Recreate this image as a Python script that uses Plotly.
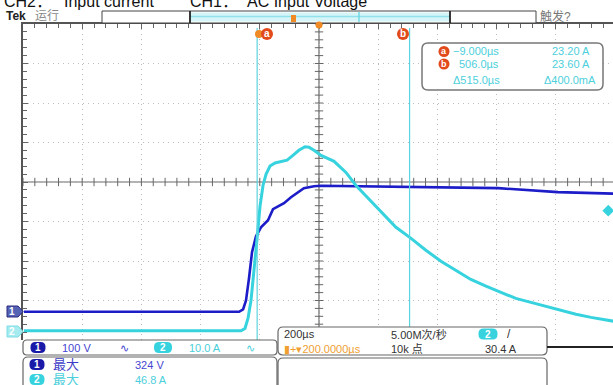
import plotly.graph_objects as go

W, H = 613, 385

# ---- data (time in µs) ----
ch1_t = [-797, -600, -400, -200, -70, -56.5, -46.6, -36.5, -26.3, -12.8, 4, 27.8, 44.6, 81.8,
         105.4, 149, 183, 207, 342, 545, 805, 1007, 1197]
ch1_v = [0, 0, 0, 0, 0, 6, 29, 85, 151, 191, 214, 232, 260, 275,
         290, 313, 318, 319, 318, 316.5, 313, 303, 299]

ch2_t = [-797, -400, -63.5, -50, -39.8, -29.7, -19.6, -9.4, 0.7, 10.8, 21, 34.5, 51.4, 71.6, 92,
         112, 132, 152.7, 166, 183, 207, 251, 291, 325, 366, 409, 460, 511, 561, 612, 663,
         713, 764, 815, 865, 916, 967, 1017, 1068, 1119, 1197]
ch2_i = [0, 0, 0, 0.6, 3.2, 7.7, 14.8, 23.2, 31.5, 36.8, 39.6, 41.7, 42.5, 42.8, 43.2,
         44.4, 45.7, 46.6, 46.5, 45.7, 44.4, 42.9, 40.1, 36.8, 33.5, 30.3, 26.2, 23.4, 20.4, 17.6, 15.3,
         13.0, 11.3, 9.7, 8.2, 7.2, 6.2, 5.2, 4.2, 3.4, 2.4]

cursor_t = [-9.0, 506.0]
trig_level = 30.4
trig_pos = 200.0

# scope settings
t_div, v_div, i_div = 200.0, 100.0, 10.0
ch1_off, ch2_off = -3.286, -3.767   # baseline position in divisions
x_range = [trig_pos - 5 * t_div, trig_pos - 5 * t_div + 590 / 59.2 * t_div]
v_range = [(-4 - ch1_off) * v_div, (4 - ch1_off) * v_div]
i_range = [(-4 - ch2_off) * i_div, (4 - ch2_off) * i_div]
v_center = -ch1_off * v_div

BLUE = '#1c1cc8'
CYAN = '#36d3df'
ORANGE = '#f08a24'
RED = '#e24a1c'
FONT = 'Liberation Sans, Arial, Noto Sans CJK SC'

def P(x):
    return x / W

def Q(y):
    return 1 - y / H

fig = go.Figure()

# centre-cross tick marks
xt = [x_range[0] + k * t_div / 5 for k in range(0, 51)]
fig.add_trace(go.Scatter(x=xt, y=[v_center] * len(xt), mode='markers',
                         marker=dict(symbol='line-ns', size=6, line=dict(color='#666', width=1)),
                         hoverinfo='skip', showlegend=False))
yt = [v_range[0] + k * v_div / 5 for k in range(0, 41)]
fig.add_trace(go.Scatter(x=[trig_pos] * len(yt), y=yt, mode='markers',
                         marker=dict(symbol='line-ew', size=6, line=dict(color='#666', width=1)),
                         hoverinfo='skip', showlegend=False))

fig.add_trace(go.Scatter(x=ch2_t, y=ch2_i, yaxis='y2', mode='lines',
                         line=dict(color=CYAN, width=3), showlegend=False))
fig.add_trace(go.Scatter(x=ch1_t, y=ch1_v, mode='lines',
                         line=dict(color=BLUE, width=2.6), showlegend=False))
# trigger level marker
fig.add_trace(go.Scatter(x=[x_range[1] - 0.08 * t_div], y=[trig_level], yaxis='y2', mode='markers',
                         marker=dict(symbol='diamond', size=9, color=CYAN), showlegend=False))

shapes = []
ann = []

def line(x0, y0, x1, y1, color, width=1, layer='above'):
    shapes.append(dict(type='line', xref='paper', yref='paper', x0=P(x0), y0=Q(y0), x1=P(x1), y1=Q(y1),
                       line=dict(color=color, width=width), layer=layer))

def rect(x0, y0, x1, y1, fill, lc=None, lw=1):
    shapes.append(dict(type='rect', xref='paper', yref='paper', x0=P(x0), y0=Q(y0), x1=P(x1), y1=Q(y1),
                       fillcolor=fill, line=dict(color=lc or fill, width=lw if lc else 0), layer='above'))

def rrect(x0, y0, x1, y1, r, fill, lc=None, lw=1):
    pts = (f"M{P(x0+r)},{Q(y0)} L{P(x1-r)},{Q(y0)} Q{P(x1)},{Q(y0)} {P(x1)},{Q(y0+r)} "
           f"L{P(x1)},{Q(y1-r)} Q{P(x1)},{Q(y1)} {P(x1-r)},{Q(y1)} L{P(x0+r)},{Q(y1)} "
           f"Q{P(x0)},{Q(y1)} {P(x0)},{Q(y1-r)} L{P(x0)},{Q(y0+r)} Q{P(x0)},{Q(y0)} {P(x0+r)},{Q(y0)} Z")
    shapes.append(dict(type='path', xref='paper', yref='paper', path=pts, fillcolor=fill,
                       line=dict(color=lc or fill, width=lw if lc else 0), layer='above'))

def circ(cx, cy, r, fill):
    shapes.append(dict(type='circle', xref='paper', yref='paper', x0=P(cx - r), x1=P(cx + r),
                       y0=Q(cy + r), y1=Q(cy - r), fillcolor=fill, line=dict(width=0), layer='above'))

def text(x, y, s, size=11, color='#333', anchor='left', bold=False, family=FONT):
    if bold:
        s = '<b>' + s + '</b>'
    ann.append(dict(x=P(x), y=Q(y), xref='paper', yref='paper', text=s, showarrow=False,
                    xanchor=anchor, yanchor='middle', font=dict(size=size, color=color, family=family)))

def pill(cx, cy, s, fill, w=15, h=11):
    rrect(cx - w / 2, cy - h / 2, cx + w / 2, cy + h / 2, h / 2 - 0.5, fill)
    text(cx, cy, s, size=10, color='white', anchor='center', bold=True)

# cursor lines
for ct in cursor_t:
    shapes.append(dict(type='line', xref='x', yref='paper', x0=ct, x1=ct, y0=Q(340), y1=Q(28),
                       line=dict(color='#5cd4df', width=1.2), layer='above'))
# centre cross lines
shapes.append(dict(type='line', xref='x', yref='paper', x0=trig_pos, x1=trig_pos, y0=Q(340), y1=Q(24),
                   line=dict(color='#666', width=1.2), layer='below'))
shapes.append(dict(type='line', xref='paper', yref='y', x0=P(23), x1=1, y0=v_center, y1=v_center,
                   line=dict(color='#666', width=1.2), layer='below'))

# title (partially off screen)
text(2, 1.5, 'CH2：', 16, '#111')
text(62, 1.5, 'Input current', 16, '#111')
text(188, 1.5, 'CH1：', 16, '#111')
text(245, 1.5, 'AC Input Voltage', 16, '#111')

# top status row
text(4, 16.5, 'Tek', 12, '#222', bold=True)
text(33, 16.5, '运行', 12, '#888')
rect(102, 11, 536, 23, 'white', '#444', 1)
rect(190, 12.5, 450, 21.5, '#d6f5f8')
line(190, 16.5, 450, 16.5, '#8fe2e9', 1.5)
line(190, 11, 190, 23, '#222', 1.8)
line(450, 11, 450, 23, '#222', 1.8)
line(359, 12, 359, 22, '#5cd4df', 1.2)
rect(291, 15, 296, 22, ORANGE)
text(538, 16, '触发?', 12, '#777')

# top markers
circ(319, 25, 3.5, ORANGE)
circ(259, 34, 4, ORANGE)
circ(267, 34, 6, RED)
text(267, 33.5, 'a', 10, 'white', 'center', bold=True)
circ(403, 34, 6, RED)
text(403, 33.5, 'b', 10, 'white', 'center', bold=True)

# cursor readout box
rrect(422, 43, 603, 90, 6, 'white', '#777', 1.5)
CY2 = '#4ccfdb'
circ(444, 51.5, 5.5, RED)
text(444, 51, 'a', 9, 'white', 'center', bold=True)
circ(444, 64, 5.5, RED)
text(444, 63.5, 'b', 9, 'white', 'center', bold=True)
text(501, 51.5, '−9.000µs', 11, CY2, 'right')
text(592, 51.5, '23.20 A', 11, CY2, 'right')
text(501, 64, '506.0µs', 11, CY2, 'right')
text(592, 64, '23.60 A', 11, CY2, 'right')
text(502, 80, 'Δ515.0µs', 11, CY2, 'right')
text(598, 80, 'Δ400.0mA', 11, CY2, 'right')

# channel ground markers on the left
shapes.append(dict(type='path', xref='paper', yref='paper', layer='above',
                   path=f"M{P(7)},{Q(306)} L{P(18)},{Q(306)} L{P(23)},{Q(311.5)} L{P(18)},{Q(317)} L{P(7)},{Q(317)} Z",
                   fillcolor='#5563b5', line=dict(color='#2a2a80', width=1)))
text(12, 311.5, '1', 10, 'white', 'center', bold=True)
shapes.append(dict(type='path', xref='paper', yref='paper', layer='above',
                   path=f"M{P(7)},{Q(326)} L{P(18)},{Q(326)} L{P(23)},{Q(331.5)} L{P(18)},{Q(337)} L{P(7)},{Q(337)} Z",
                   fillcolor='#a5ebf0', line=dict(color='#7fdde5', width=1)))
text(12, 331.5, '2', 10, 'white', 'center', bold=True)

# bottom channel bar
rrect(23, 340, 277, 355, 4, 'white', '#666', 1.2)
pill(38, 347.5, '1', '#1a1aa8')
text(60, 347.5, '100 V', 11, '#4646d2')
text(118, 347.5, '∿', 11, '#4646d2')
pill(163, 347.5, '2', CYAN, w=18)
text(187, 347.5, '10.0 A', 11, CY2)
text(244, 347.5, '∿', 11, CY2)

# measurement box
rrect(23, 357, 277, 400, 5, 'white', '#666', 1.2)
pill(37, 364.5, '1', '#1a1aa8')
text(51, 364.5, '最大', 13, '#3c3cc8')
text(133, 364.5, '324 V', 11, '#4646d2')
pill(37, 379.5, '2', CYAN)
text(51, 379.5, '最大', 13, CY2)
text(133, 379.5, '46.8 A', 11, CY2)

# horizontal / acquisition box
rrect(278, 327, 547, 355, 5, 'white', '#666', 1.2)
text(282, 334, '200µs', 11, '#333')
text(389, 334, '5.00M次/秒', 11, '#333')
pill(488, 334, '2', CYAN, w=19)
text(505, 334, '/', 12, '#333')
text(282, 349, '▮+▾200.0000µs', 11, '#f0a030')
text(389, 349, '10k 点', 11, '#333')
text(483, 349, '30.4 A', 11, '#333')
rrect(278, 358, 547, 400, 5, 'white', '#666', 1.2)
line(547, 347, 613, 347, '#222', 2)

fig.update_layout(
    width=W, height=H, margin=dict(l=0, r=0, t=0, b=0),
    paper_bgcolor='white', plot_bgcolor='white', showlegend=False,
    xaxis=dict(domain=[23 / W, 1], range=x_range, side='top', showline=True, linecolor='#555', linewidth=1.5,
               ticks='inside', ticklen=5, tickcolor='#666', tick0=x_range[0], dtick=t_div,
               showticklabels=False, zeroline=False,
               showgrid=True, gridcolor='#bdbdbd', griddash='1px,4px', gridwidth=1,
               minor=dict(ticks='inside', ticklen=4, tickcolor='#666', dtick=t_div / 5, tick0=x_range[0],
                          showgrid=False)),
    yaxis=dict(domain=[(H - 340) / H, (H - 24) / H], range=v_range, showline=True, linecolor='#555',
               linewidth=1.5, ticks='inside', ticklen=5, tickcolor='#666', tick0=v_range[0], dtick=v_div,
               showticklabels=False, zeroline=False,
               showgrid=True, gridcolor='#bdbdbd', griddash='1px,4px', gridwidth=1,
               minor=dict(ticks='inside', ticklen=4, tickcolor='#666', dtick=v_div / 5, tick0=v_range[0],
                          showgrid=False)),
    yaxis2=dict(overlaying='y', range=i_range, visible=False),
    shapes=shapes, annotations=ann,
)

fig.write_html('out.html', config={'displayModeBar': False},
               post_script="document.body.style.margin='0px';document.body.style.overflow='hidden';")
